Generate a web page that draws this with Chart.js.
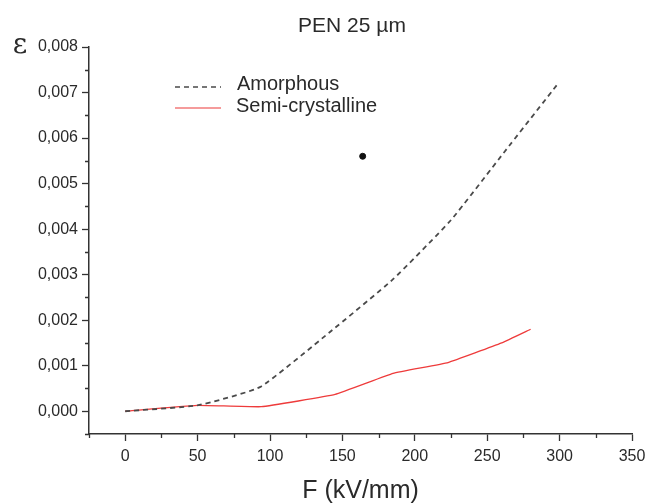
<!DOCTYPE html>
<html>
<head>
<meta charset="utf-8">
<script src="https://cdn.jsdelivr.net/npm/chart.js@4.4.1/dist/chart.umd.min.js"></script>
<style>
  html, body { margin: 0; padding: 0; background: #fff; }
  #wrap { width: 648px; height: 503px; position: relative; }
</style>
</head>
<body>
<div id="wrap"><canvas id="chart" width="648" height="503"></canvas></div>
<script>
// ----------------- Data -----------------
const amorphousF = [0, 50, 93, 141, 185, 225, 262, 299];
const amorphousEps = [0, 0.00013, 0.00053, 0.00173, 0.0029, 0.0042, 0.0057, 0.0072];

const semiF = [0, 50, 94, 145, 185, 223, 260, 280];
const semiEps = [0, 0.00013, 0.0001, 0.00037, 0.00083, 0.00107, 0.0015, 0.0018];

const dotF = [164];
const dotEps = [0.0056];

const xTicks = [0, 50, 100, 150, 200, 250, 300, 350];
const xMinor = [-25, 25, 75, 125, 175, 225, 275, 325];
const yTicks = [0, 0.001, 0.002, 0.003, 0.004, 0.005, 0.006, 0.007, 0.008];
const yMinor = [-0.0005, 0.0005, 0.0015, 0.0025, 0.0035, 0.0045, 0.0055, 0.0065, 0.0075];

const seriesNames = ["Amorphous", "Semi-crystalline"];
const chartTitle = "PEN 25 µm";
const xTitle = "F (kV/mm)";
const yTitle = "ε";

// ----------------- Styles -----------------
const axisColor = "#333";
const textColor = "#2a2a2a";
const dashColor = "#4a4a4a";
const redColor = "#ee3b3b";
const fontFamily = "'Liberation Sans', Arial, sans-serif";

function toPoints(xs, ys) {
  return xs.map((x, i) => ({ x, y: ys[i] }));
}

// minor ticks, titles and legend drawn on the canvas
const decorPlugin = {
  id: "decor",
  afterDraw(chart) {
    const ctx = chart.ctx;
    const xs = chart.scales.x;
    const ys = chart.scales.y;
    const area = chart.chartArea;
    ctx.save();
    ctx.strokeStyle = axisColor;
    ctx.lineWidth = 1.3;
    ctx.beginPath();
    xMinor.forEach((v) => {
      const px = Math.round(xs.getPixelForValue(v)) + 0.5;
      ctx.moveTo(px, area.bottom);
      ctx.lineTo(px, area.bottom + 4);
    });
    yMinor.forEach((v) => {
      const py = Math.round(ys.getPixelForValue(v)) + 0.5;
      ctx.moveTo(area.left, py);
      ctx.lineTo(area.left - 4, py);
    });
    ctx.stroke();

    // title
    ctx.fillStyle = textColor;
    ctx.textAlign = "center";
    ctx.textBaseline = "middle";
    ctx.font = "21px " + fontFamily;
    ctx.fillText(chartTitle, 352, 26);

    // epsilon
    ctx.font = "28px 'DejaVu Serif', serif";
    ctx.fillText(yTitle, 20, 46);

    // legend
    ctx.font = "20px " + fontFamily;
    ctx.textAlign = "left";
    ctx.lineWidth = 1.5;
    ctx.strokeStyle = dashColor;
    ctx.setLineDash([5, 4]);
    ctx.beginPath();
    ctx.moveTo(175, 87);
    ctx.lineTo(221, 87);
    ctx.stroke();
    ctx.setLineDash([]);
    ctx.strokeStyle = "#f27a7a";
    ctx.beginPath();
    ctx.moveTo(175, 108);
    ctx.lineTo(221, 108);
    ctx.stroke();
    ctx.fillText(seriesNames[0], 237, 84);
    ctx.fillText(seriesNames[1], 236, 106);
    ctx.restore();
  },
};

const ctx = document.getElementById("chart").getContext("2d");
new Chart(ctx, {
  type: "line",
  data: {
    datasets: [
      {
        label: seriesNames[0],
        data: toPoints(amorphousF, amorphousEps),
        borderColor: dashColor,
        borderWidth: 1.8,
        borderDash: [5, 4],
        pointRadius: 0,
        tension: 0.15,
        fill: false,
      },
      {
        label: seriesNames[1],
        data: toPoints(semiF, semiEps),
        borderColor: redColor,
        borderWidth: 1.3,
        pointRadius: 0,
        tension: 0.1,
        fill: false,
      },
      {
        type: "scatter",
        label: "point",
        data: toPoints(dotF, dotEps),
        backgroundColor: "#111",
        borderColor: "#111",
        pointRadius: 3,
        showLine: false,
      },
    ],
  },
  options: {
    responsive: false,
    animation: false,
    events: [],
    layout: { padding: { top: 47, right: 16, left: 0, bottom: 0 } },
    plugins: {
      legend: { display: false },
      tooltip: { enabled: false },
      title: { display: false },
    },
    scales: {
      x: {
        type: "linear",
        min: -25,
        max: 350,
        afterBuildTicks: (s) => {
          s.ticks = xTicks.map((v) => ({ value: v }));
        },
        afterFit: (s) => {
          s.height = 503 - 434;
          s.paddingLeft = 0;
          s.paddingRight = 0;
        },
        grid: {
          drawOnChartArea: false,
          drawTicks: true,
          tickLength: 7,
          tickColor: axisColor,
          tickWidth: 1.3,
        },
        border: { display: true, color: axisColor, width: 1.5 },
        ticks: {
          padding: 6,
          color: textColor,
          font: { family: fontFamily, size: 16 },
          maxRotation: 0,
        },
        title: {
          display: true,
          text: xTitle,
          color: textColor,
          font: { family: fontFamily, size: 25 },
          padding: { top: 0, bottom: -3 },
        },
      },
      y: {
        type: "linear",
        min: -0.0005,
        max: 0.008,
        afterBuildTicks: (s) => {
          s.ticks = yTicks.map((v) => ({ value: v }));
        },
        afterFit: (s) => {
          s.width = 89;
          s.paddingTop = 0;
          s.paddingBottom = 0;
        },
        grid: {
          drawOnChartArea: false,
          drawTicks: true,
          tickLength: 7,
          tickColor: axisColor,
          tickWidth: 1.3,
        },
        border: { display: true, color: axisColor, width: 1.5 },
        ticks: {
          padding: 4,
          color: textColor,
          font: { family: fontFamily, size: 16 },
          callback: (v) => v.toFixed(3).replace(".", ","),
        },
      },
    },
  },
  plugins: [decorPlugin],
});
</script>
</body>
</html>
